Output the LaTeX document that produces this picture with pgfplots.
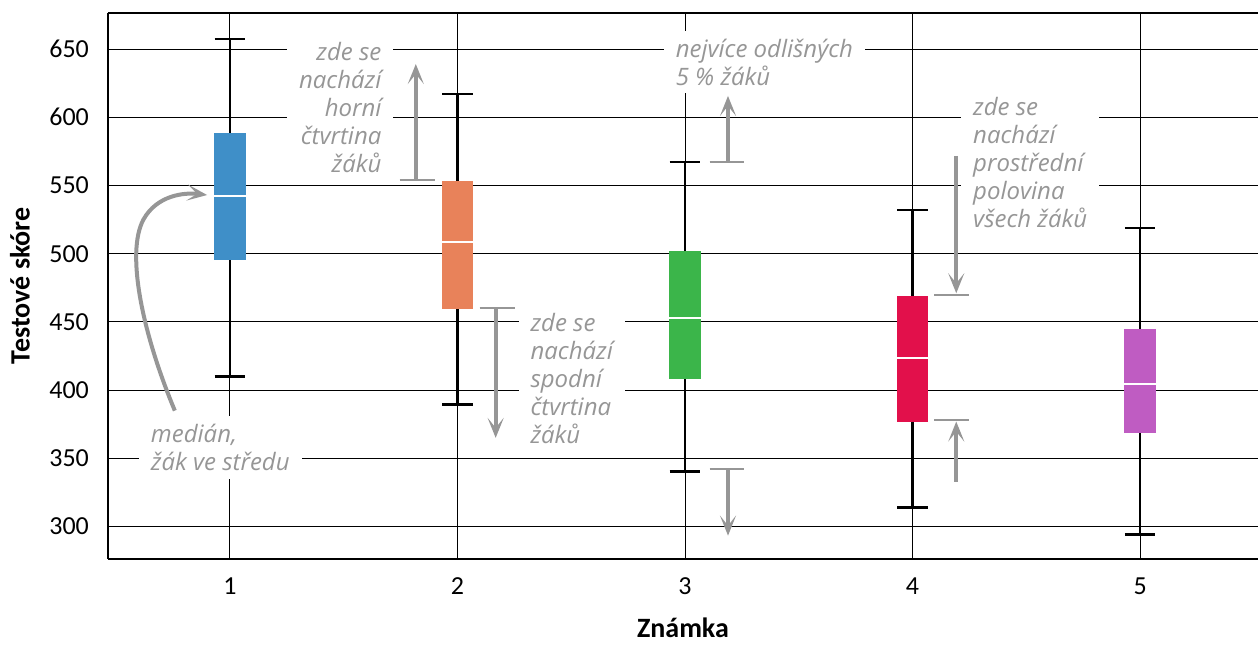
\documentclass[border=0pt]{standalone}
\usepackage{fontspec}
\setmainfont{Carlito}
\newfontfamily\hand{Open Sans}
\usepackage{pgfplots}
\pgfplotsset{compat=1.18}
\usetikzlibrary{arrows.meta}
\definecolor{c1}{HTML}{3F8FC8}
\definecolor{c2}{HTML}{E8825A}
\definecolor{c3}{HTML}{3BB54A}
\definecolor{c4}{HTML}{E2104B}
\definecolor{c5}{HTML}{BF5CC2}
\definecolor{ann}{HTML}{969696}
\tikzset{
  arr/.style={draw=ann, line width=2pt, -{Stealth[length=10pt,width=8pt,inset=5pt]}},
  base/.style={draw=ann, line width=1pt},
  note/.style={fill=white, text=ann, font=\hand\itshape\fontsize{12}{14}\selectfont, inner xsep=6pt, inner ysep=4pt},
}
\pgfplotsset{
  whisk/.style={black, line width=1.3pt, mark=none, forget plot},
  med/.style={white, line width=1.2pt, mark=none, forget plot},
}
\begin{document}
\begin{tikzpicture}
\begin{axis}[
  name=ax,
  scale only axis,
  width=575.5pt, height=273pt,
  xmin=0.464, xmax=5.518,
  ymin=276.6, ymax=676.4,
  xtick={1,2,3,4,5},
  ytick={300,350,400,450,500,550,600,650},
  grid=major,
  major grid style={black, line width=0.5pt},
  axis lines*=left,
  axis line style={line width=1pt},
  tick style={draw=none},
  clip=false,
  /pgf/number format/assume math mode=true,
  tick label style={font=\fontsize{13}{15}\selectfont},
  xticklabel style={yshift=-6pt},
  yticklabel style={xshift=-6pt},
  xlabel={Známka},
  ylabel={Testové skóre},
  label style={font=\bfseries\fontsize{14}{16}\selectfont},
  xlabel style={at={(axis description cs:0.5,0)}, anchor=center, yshift=-34.5pt},
  ylabel style={at={(axis description cs:-0.0765,0.5)}, anchor=center},
]
% whiskers (low to high) and caps
\addplot[whisk] coordinates {(1,409.8) (1,657.3)};
\addplot[whisk] coordinates {(0.9325,409.8) (1.0675,409.8)};
\addplot[whisk] coordinates {(0.9325,657.3) (1.0675,657.3)};
\addplot[whisk] coordinates {(2,389.3) (2,617.0)};
\addplot[whisk] coordinates {(1.9325,389.3) (2.0675,389.3)};
\addplot[whisk] coordinates {(1.9325,617.0) (2.0675,617.0)};
\addplot[whisk] coordinates {(3,340.3) (3,567.3)};
\addplot[whisk] coordinates {(2.9325,340.3) (3.0675,340.3)};
\addplot[whisk] coordinates {(2.9325,567.3) (3.0675,567.3)};
\addplot[whisk] coordinates {(4,313.9) (4,532.1)};
\addplot[whisk] coordinates {(3.9325,313.9) (4.0675,313.9)};
\addplot[whisk] coordinates {(3.9325,532.1) (4.0675,532.1)};
\addplot[whisk] coordinates {(5,294.1) (5,518.9)};
\addplot[whisk] coordinates {(4.9325,294.1) (5.0675,294.1)};
\addplot[whisk] coordinates {(4.9325,518.9) (5.0675,518.9)};
% boxes (lower quartile to upper quartile)
\addplot[fill=c1, draw=none, forget plot] coordinates {(0.93,495.5) (1.07,495.5) (1.07,588.5) (0.93,588.5)} -- cycle;
\addplot[fill=c2, draw=none, forget plot] coordinates {(1.93,459.6) (2.07,459.6) (2.07,553.3) (1.93,553.3)} -- cycle;
\addplot[fill=c3, draw=none, forget plot] coordinates {(2.93,408.4) (3.07,408.4) (3.07,502.1) (2.93,502.1)} -- cycle;
\addplot[fill=c4, draw=none, forget plot] coordinates {(3.93,376.9) (4.07,376.9) (4.07,469.1) (3.93,469.1)} -- cycle;
\addplot[fill=c5, draw=none, forget plot] coordinates {(4.93,368.8) (5.07,368.8) (5.07,445.0) (4.93,445.0)} -- cycle;
% medians
\addplot[med] coordinates {(0.93,542.4) (1.07,542.4)};
\addplot[med] coordinates {(1.93,508.7) (2.07,508.7)};
\addplot[med] coordinates {(2.93,453.0) (3.07,453.0)};
\addplot[med] coordinates {(3.93,423.7) (4.07,423.7)};
\addplot[med] coordinates {(4.93,404.7) (5.07,404.7)};

\draw[line width=1pt] (axis description cs:0,1) -- (axis description cs:1,1);

% annotations
\node[note, align=right] at (axis cs:1.485,607.2) {zde se\\nachází\\horní\\čtvrtina\\žáků};
\node[note, align=left] at (axis cs:2.502,408.5) {zde se\\nachází\\spodní\\čtvrtina\\žáků};
\node[note, align=left] at (axis cs:3.349,640.5) {nejvíce odlišných\\5 \% žáků};
\node[note, align=left] at (axis cs:4.517,566.5) {zde se\\nachází\\prostřední\\polovina\\všech žáků};
\node[note, align=left] at (axis cs:0.958,357.8) {medián,\\žák ve středu};

\draw[base] (axis cs:1.746,554) -- (axis cs:1.900,554);
\draw[arr] (axis cs:1.817,554) -- (axis cs:1.817,639);
\draw[base] (axis cs:2.098,460.4) -- (axis cs:2.251,460.4);
\draw[arr] (axis cs:2.168,460.4) -- (axis cs:2.168,365);
\draw[base] (axis cs:3.108,567.3) -- (axis cs:3.261,567.3);
\draw[arr] (axis cs:3.189,567.3) -- (axis cs:3.189,615.6);
\draw[base] (axis cs:3.108,342.5) -- (axis cs:3.261,342.5);
\draw[arr] (axis cs:3.189,342.5) -- (axis cs:3.189,293.4);
\draw[base] (axis cs:4.096,469.9) -- (axis cs:4.249,469.9);
\draw[arr] (axis cs:4.192,571.7) -- (axis cs:4.192,471);
\draw[base] (axis cs:4.096,378.3) -- (axis cs:4.249,378.3);
\draw[arr] (axis cs:4.192,333) -- (axis cs:4.192,377);
\draw[arr] (axis cs:0.758,385) .. controls (axis cs:0.62,440) and (axis cs:0.54,500) .. (axis cs:0.62,525) .. controls (axis cs:0.68,543) and (axis cs:0.80,545) .. (axis cs:0.9,543);
\end{axis}
\path[use as bounding box] ([xshift=-54pt,yshift=-40.5pt]ax.south west) rectangle ([yshift=6.5pt]ax.north east);
\end{tikzpicture}
\end{document}
